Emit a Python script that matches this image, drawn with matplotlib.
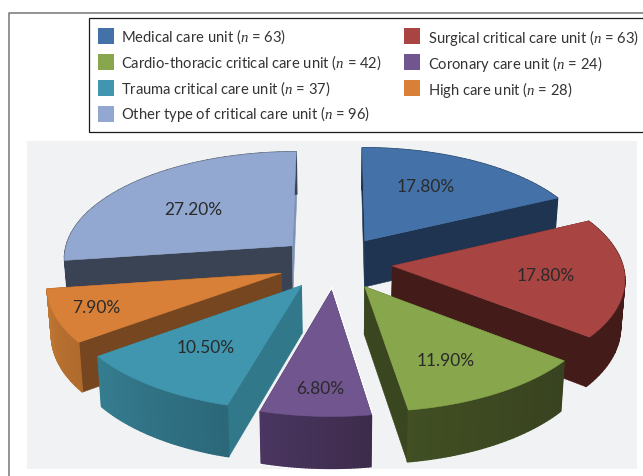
#! /usr/bin/env python3
# -*- coding: utf-8 -*-

import numpy as np
import matplotlib
matplotlib.use('Agg')
import matplotlib.pyplot as plt
from matplotlib.colors import to_rgb
from matplotlib.patches import Polygon, Rectangle

units = ['Medical care unit', 'Surgical critical care unit',
         'Cardio-thoracic critical care unit', 'Coronary care unit',
         'Trauma critical care unit', 'High care unit',
         'Other type of critical care unit']
counts = [63, 63, 42, 24, 37, 28, 96]
percents = [17.8, 17.8, 11.9, 6.8, 10.5, 7.9, 27.2]

top_colors = ['#4472A8', '#A84442', '#88A64C', '#70558F', '#3F96AE', '#D98038', '#92A8D0']
start_side = ['#1E3450', '#431B18', '#3A4620', '#45325A', '#30788A', '#764620', '#3A4354']
end_side = ['#1E3450', '#431B18', '#3A4620', '#45325A', '#30788A', '#764620', '#7F92B3']
outer_start = ['#1E3450', '#431B18', '#38421F', '#3D2B4B', '#2B6779', '#B06A2C', '#3A4354']
outer_end = ['#1E3450', '#431B18', '#414F23', '#4A3661', '#367D90', '#BE7632', '#3A4354']
label_radius = [0.52, 0.67, 0.66, 0.78, 0.65, 0.88, 0.57]
label_nudge = [(3, -12), (-2, 1), (-4, 5), (1, 2), (-2, -2), (13, -4), (-7, 1)]
draw_order = [6, 0, 5, 1, 4, 2, 3]

CX, CY = 335, 264
EXPLODE = 0.25
DEPTH = 47


def project(x, y):
    # y grows towards the viewer, front of the pie is a bit bigger
    s = 1 / (1 - 0.103 * y)
    return CX + 230 * x * s, CY + 107 * y * s


def drop(px, py, y):
    return CX + (px - CX) * 0.985, py + DEPTH + 4 * y


def blend(c1, c2, f):
    a, b = np.array(to_rgb(c1)), np.array(to_rgb(c2))
    return a + (b - a) * f


def poly(ax, pts, color, z, lw=0.4):
    ax.add_patch(Polygon(pts, closed=True, fc=color, ec=color, lw=lw, zorder=z))


def draw_slice(ax, i, t0, t1, z):
    mid = (t0 + t1) / 2
    ox, oy = EXPLODE * np.sin(mid), -EXPLODE * np.cos(mid)
    ts = np.linspace(t0, t1, 40)
    wx = np.r_[ox, ox + np.sin(ts)]
    wy = np.r_[oy, oy - np.cos(ts)]
    px, py = project(wx, wy)
    bx, by = drop(px, py, wy)

    if i == 3:
        # thin white rim around the coronary slice
        rim = np.c_[np.r_[bx[1:], px[0], px[1:]], np.r_[by[1:], py[0], py[1:]]]
        ax.add_patch(Polygon(rim, closed=True, fc='white', ec='white', lw=2.4, zorder=z))

    for k, color in ((1, start_side[i]), (len(ts), end_side[i])):
        pts = [(px[0], py[0]), (px[k], py[k]), (bx[k], by[k]), (bx[0], by[0])]
        poly(ax, pts, color, z)
    for k in range(1, len(ts)):
        pts = [(px[k], py[k]), (px[k + 1], py[k + 1]), (bx[k + 1], by[k + 1]), (bx[k], by[k])]
        poly(ax, pts, blend(outer_start[i], outer_end[i], k / len(ts)), z, lw=1.0)
    poly(ax, np.c_[px, py], top_colors[i], z + 0.5)

    lx, ly = project(ox + label_radius[i] * np.sin(mid), oy - label_radius[i] * np.cos(mid))
    ax.text(lx + label_nudge[i][0], ly + label_nudge[i][1], '%.2f%%' % percents[i],
            ha='center', va='center', fontsize=12.5, color='#2A2A2A', zorder=50)


def draw_legend(ax):
    ax.add_patch(Rectangle((89, 19), 560, 114, fc='white', ec='#1A1A1A', lw=0.9, zorder=2))
    rows = [(0, 98, 121, 29), (1, 404, 428, 29), (2, 98, 121, 55), (3, 404, 428, 55),
            (4, 98, 121, 81), (5, 404, 428, 81), (6, 98, 121, 107)]
    for i, sx, tx, sy in rows:
        ax.add_patch(Rectangle((sx, sy), 16, 16, fc=top_colors[i], ec='none', zorder=3))
        off = 1 if sx > 100 else -1
        ax.text(tx, sy + 8.5 + off, r'%s ($\mathit{n}$ = %d)' % (units[i], counts[i]),
                ha='left', va='center', fontsize=10.6, color='#333333', zorder=3)


def main():
    plt.rcParams['font.family'] = ['Lato', 'DejaVu Sans']
    plt.rcParams['mathtext.fontset'] = 'custom'
    plt.rcParams['mathtext.it'] = 'Liberation Serif:italic'
    plt.rcParams['mathtext.rm'] = 'Lato'

    fig = plt.figure(figsize=(6.43, 4.77), dpi=100)
    ax = fig.add_axes([0, 0, 1, 1])
    ax.set_xlim(0, 643)
    ax.set_ylim(477, 0)
    ax.axis('off')

    # chart frame, open at the right and the bottom
    ax.plot([8.5, 8.5, 643], [477, 13.5, 13.5], color='#808080', lw=1.2, zorder=1)
    ax.add_patch(Rectangle((27, 142), 610, 328, fc='#F1F2F4', ec='none', zorder=1))
    draw_legend(ax)

    edges = np.r_[0, np.cumsum(percents)] / np.sum(percents) * 2 * np.pi
    for z, i in enumerate(draw_order):
        draw_slice(ax, i, edges[i], edges[i + 1], 10 + z)

    fig.savefig('out.png', dpi=100)


if __name__ == '__main__':
    main()
